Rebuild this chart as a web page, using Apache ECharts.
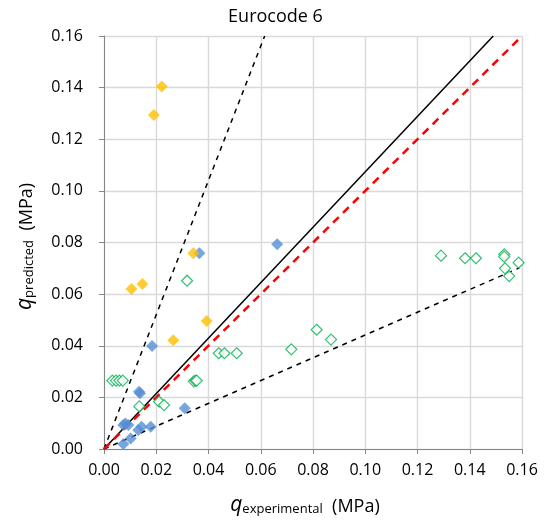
<!DOCTYPE html>
<html><head><meta charset="utf-8">
<script src="https://cdn.jsdelivr.net/npm/echarts@6/dist/echarts.min.js"></script>
<style>html,body{margin:0;padding:0;background:#fff}#c{width:551px;height:529px}</style>
</head><body><div id="c"></div>
<script>
var xTicks = [0, 0.02, 0.04, 0.06, 0.08, 0.10, 0.12, 0.14, 0.16];
var yTicks = [0, 0.02, 0.04, 0.06, 0.08, 0.10, 0.12, 0.14, 0.16];
var yellowX = [0.0221, 0.0191, 0.0342, 0.0105, 0.0147, 0.0393, 0.0265];
var yellowY = [0.1404, 0.1294, 0.0758, 0.0620, 0.0639, 0.0496, 0.0421];
var blueX = [0.0365, 0.0663, 0.0184, 0.0138, 0.0134, 0.0309, 0.0074, 0.0093, 0.0082, 0.0131, 0.0144, 0.0179, 0.0102, 0.0074];
var blueY = [0.0758, 0.0793, 0.0399, 0.0216, 0.0222, 0.0158, 0.0093, 0.0093, 0.0099, 0.0074, 0.0086, 0.0086, 0.0041, 0.0019];
var greenX = [0.0318, 0.0439, 0.0461, 0.0508, 0.0717, 0.0814, 0.0869, 0.0032, 0.0046, 0.0059, 0.0072, 0.0344, 0.0350, 0.0355, 0.0135, 0.0211, 0.0230, 0.1290, 0.1382, 0.1424, 0.1532, 0.1532, 0.1535, 0.1551, 0.1587];
var greenY = [0.0652, 0.0371, 0.0371, 0.0371, 0.0386, 0.0462, 0.0424, 0.0265, 0.0265, 0.0265, 0.0265, 0.0262, 0.0265, 0.0265, 0.0165, 0.0183, 0.0170, 0.0749, 0.0739, 0.0739, 0.0754, 0.0745, 0.0700, 0.0670, 0.0722];
var lineEqual = [[0, 0], [0.16, 0.16]];
var lineFit = [[0, 0], [0.149, 0.16]];
var lineUpper = [[0, 0], [0.0615, 0.16]];
var lineLower = [[0, 0], [0.159, 0.0702]];

function zip(a, b) { return a.map(function (v, i) { return [v, b[i]]; }); }
var font = 'Open Sans';
var rich = {
  q: { fontFamily: font, fontSize: 21, fontStyle: 'italic', color: '#000', verticalAlign: 'bottom' },
  s: { fontFamily: font, fontSize: 13, color: '#000', padding: [9, 0, 0, 0], verticalAlign: 'bottom' },
  u: { fontFamily: font, fontSize: 18, color: '#000', verticalAlign: 'bottom' }
};
var chart = echarts.init(document.getElementById('c'));
chart.setOption({
  animation: false,
  title: { text: 'Eurocode 6', left: 'center', top: 3, textStyle: { fontFamily: font, fontSize: 18, fontWeight: 'normal', color: '#000' } },
  grid: { left: 104, right: 29, top: 36, bottom: 80 },
  xAxis: {
    type: 'value', min: 0, max: 0.16, interval: 0.02,
    axisLine: { show: true, lineStyle: { color: '#868686', width: 1 } },
    axisTick: { show: true, length: 5, lineStyle: { color: '#868686' } },
    splitLine: { show: true, lineStyle: { color: '#d9d9d9', width: 1.4 } },
    axisLabel: { fontFamily: font, fontSize: 16, color: '#000', margin: 13, formatter: function (v) { return v.toFixed(2); } },
    name: '{q|q}{s|experimental}{u|  (MPa)}', nameLocation: 'middle', nameGap: 45,
    nameTextStyle: { rich: rich, padding: [0, 16, 0, 0] }
  },
  yAxis: {
    type: 'value', min: 0, max: 0.16, interval: 0.02,
    axisLine: { show: true, lineStyle: { color: '#868686', width: 1 } },
    axisTick: { show: true, length: 5, lineStyle: { color: '#868686' } },
    splitLine: { show: true, lineStyle: { color: '#d9d9d9', width: 1.4 } },
    axisLabel: { fontFamily: font, fontSize: 16, color: '#000', margin: 21, formatter: function (v) { return v.toFixed(2); } },
    name: '{q|q}{s|predicted}{u|  (MPa)}', nameLocation: 'middle', nameGap: 68, nameRotate: 90,
    nameTextStyle: { rich: rich, padding: [0, 8, 0, 0] }
  },
  series: [
    { type: 'line', data: lineUpper, symbol: 'none', silent: true, lineStyle: { color: '#000', width: 1.5, type: [5, 5] }, z: 2 },
    { type: 'line', data: lineLower, symbol: 'none', silent: true, lineStyle: { color: '#000', width: 1.5, type: [5, 5] }, z: 2 },
    { type: 'line', data: lineFit, symbol: 'none', silent: true, lineStyle: { color: '#000', width: 1.5 }, z: 2 },
    { type: 'line', data: lineEqual, symbol: 'none', silent: true, lineStyle: { color: '#ff0000', width: 2.5, type: [8, 6] }, z: 2 },
    { type: 'scatter', data: zip(greenX, greenY), symbol: 'diamond', symbolSize: 11, itemStyle: { color: '#fff', borderColor: '#00b050', borderWidth: 1.2 }, z: 3 },
    { type: 'scatter', data: zip(blueX, blueY), symbol: 'diamond', symbolSize: 12, itemStyle: { color: '#558ed5' }, z: 4 },
    { type: 'scatter', data: zip(yellowX, yellowY), symbol: 'diamond', symbolSize: 12, itemStyle: { color: '#ffc000' }, z: 5 }
  ]
});
</script></body></html>
